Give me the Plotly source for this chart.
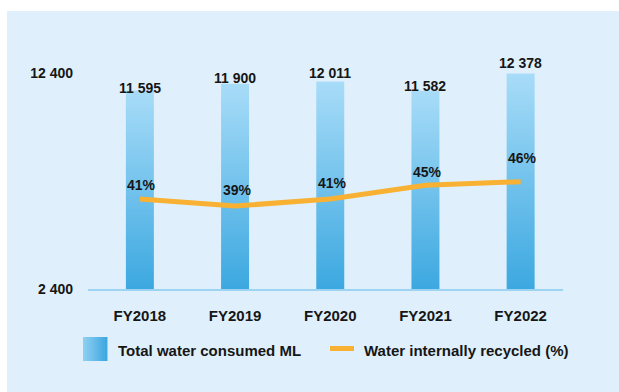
import plotly.graph_objects as go

# ---- data -------------------------------------------------------------
years = ["FY2018", "FY2019", "FY2020", "FY2021", "FY2022"]
water_ml = [11595, 11900, 12011, 11582, 12378]
recycled_pct = [41, 39, 41, 45, 46]
y_ticks = [2400, 12400]
y_tick_text = ["2 400", "12 400"]

# ---- styling ----------------------------------------------------------
W, H = 619, 392
L, R, T, B = 88, 56, 73, 103
PW, PH = W - L - R, H - T - B

FONT = "Liberation Sans, Arial, Helvetica, sans-serif"
INK = "#161616"
PANEL = "#dff0fc"
BAR_BOTTOM = "#3ca8e0"
BAR_TOP = "#a8dcf8"
ORANGE = "#f8b133"
BASELINE = "#9dd4f3"
BAR_W = 0.294

# label offsets (px above the mark)
value_shift = [2, 6, 8, 5, 10]
pct_shift = [14, 16, 16, 13, 24]


def px(x):
    return (x - L) / PW


def py(y):
    return (H - B - y) / PH


fig = go.Figure()

# gradient-filled bars on a linear x axis
for i, v in enumerate(water_ml):
    x0, x1 = i - BAR_W / 2, i + BAR_W / 2
    base = y_ticks[0]
    fig.add_trace(go.Scatter(
        x=[x0, x1, x1, x0, x0],
        y=[base, base, v, v, base],
        mode="none",
        fill="toself",
        fillgradient=dict(type="vertical",
                          colorscale=[[0, BAR_BOTTOM], [1, BAR_TOP]]),
        showlegend=False,
        hoverinfo="skip",
    ))

# recycled percentage line
fig.add_trace(go.Scatter(
    x=list(range(len(years))),
    y=recycled_pct,
    yaxis="y2",
    mode="lines",
    line=dict(color=ORANGE, width=5),
    showlegend=False,
    hoverinfo="skip",
))

annotations = []
for i, v in enumerate(water_ml):
    annotations.append(dict(
        x=i, y=v, xref="x", yref="y",
        text=f"{v:,}".replace(",", " "),
        showarrow=False, yanchor="middle", yshift=value_shift[i],
        font=dict(family=FONT, size=14, color=INK, weight="bold"),
    ))
for i, p in enumerate(recycled_pct):
    annotations.append(dict(
        x=i, y=p, xref="x", yref="y2",
        text=f"{p}%",
        showarrow=False, yanchor="middle", yshift=pct_shift[i], xshift=2,
        font=dict(family=FONT, size=14, color=INK, weight="bold"),
    ))

# legend text
annotations.append(dict(
    x=px(116), y=py(350), xref="paper", yref="paper",
    text="Total water consumed ML", showarrow=False,
    xanchor="left", yanchor="middle",
    font=dict(family=FONT, size=15, color=INK, weight="bold"),
))
annotations.append(dict(
    x=px(362), y=py(350), xref="paper", yref="paper",
    text="Water internally recycled (%)", showarrow=False,
    xanchor="left", yanchor="middle",
    font=dict(family=FONT, size=15, color=INK, weight="bold"),
))

shapes = [
    # light blue panel
    dict(type="rect", xref="paper", yref="paper", layer="below",
         x0=px(7), x1=px(W + 2), y0=py(H + 2), y1=py(11),
         fillcolor=PANEL, line=dict(width=0)),
    # legend line swatch
    dict(type="line", xref="paper", yref="paper",
         x0=px(330), x1=px(354), y0=py(348.5), y1=py(348.5),
         line=dict(color=ORANGE, width=5)),
]


def mix(c1, c2, t):
    a = [int(c1[k:k + 2], 16) for k in (1, 3, 5)]
    b = [int(c2[k:k + 2], 16) for k in (1, 3, 5)]
    return "#" + "".join(f"{round(a[j] + (b[j] - a[j]) * t):02x}" for j in range(3))


# legend swatch for the bars (gradient built from thin strips)
n = 12
sw_x0, sw_x1, sw_y0, sw_y1 = 83, 107, 337, 361
for k in range(n):
    xa = sw_x0 + (sw_x1 - sw_x0) * k / n
    xb = sw_x0 + (sw_x1 - sw_x0) * (k + 1) / n
    shapes.append(dict(
        type="rect", xref="paper", yref="paper",
        x0=px(xa), x1=px(xb) + 0.001, y0=py(sw_y1), y1=py(sw_y0),
        fillcolor=mix("#8ccff2", "#3fa9e2", k / (n - 1)),
        line=dict(width=0),
    ))

fig.update_layout(
    width=W, height=H,
    margin=dict(l=L, r=R, t=T, b=B, pad=0),
    paper_bgcolor="white",
    plot_bgcolor="rgba(0,0,0,0)",
    showlegend=False,
    font=dict(family=FONT, color=INK),
    xaxis=dict(
        range=[-0.545, 4.445],
        tickvals=list(range(len(years))),
        ticktext=years,
        showgrid=False, zeroline=False,
        showline=True, linecolor=BASELINE, linewidth=2,
        ticks="", ticklabelstandoff=12,
        tickfont=dict(family=FONT, size=15, color=INK, weight="bold"),
        fixedrange=True,
    ),
    yaxis=dict(
        range=[y_ticks[0], y_ticks[1]],
        tickvals=y_ticks,
        ticktext=y_tick_text,
        showgrid=True, gridcolor="white", gridwidth=1.5,
        zeroline=False, showline=False,
        ticks="", ticklabelstandoff=14,
        tickfont=dict(family=FONT, size=14, color=INK, weight="bold"),
        fixedrange=True,
    ),
    yaxis2=dict(
        overlaying="y", range=[15.08, 77.33],
        visible=False, fixedrange=True,
    ),
    annotations=annotations,
    shapes=shapes,
)

fig.write_html("out.html", config={"displayModeBar": False})
